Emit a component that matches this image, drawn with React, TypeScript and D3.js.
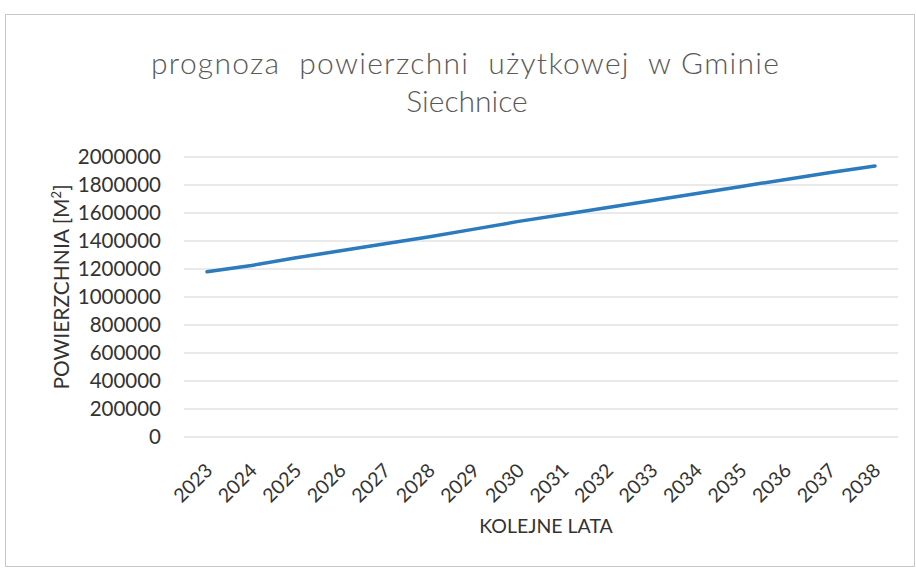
import React from 'react'
import * as d3 from 'd3'

const years = ['2023', '2024', '2025', '2026', '2027', '2028', '2029', '2030', '2031', '2032', '2033', '2034', '2035', '2036', '2037', '2038']
const area = [1180000, 1225000, 1280000, 1330000, 1380000, 1430000, 1485000, 1540000, 1590000, 1640000, 1690000, 1740000, 1790000, 1840000, 1890000, 1935000]
const yTicks = [0, 200000, 400000, 600000, 800000, 1000000, 1200000, 1400000, 1600000, 1800000, 2000000]

const W = 916
const H = 571
const font = 'Lato, "Open Sans", sans-serif'

export default function App() {
  const x = d3.scalePoint<string>().domain(years).range([207, 875])
  const y = d3.scaleLinear().domain([0, 2000000]).range([437, 157])
  const line = d3.line<number>().x((_, i) => x(years[i]) as number).y(d => y(d))

  return (
    <svg width={W} height={H} style={{ position: 'absolute', left: 0, top: 0, background: '#fff' }}>
      <rect x={5.5} y={14.5} width={909} height={552} fill="#fff" stroke="#c8c8c8" strokeWidth={1} />
      <text x={465} y={74} textAnchor="middle" fontFamily={font} fontWeight={300} fontSize={30} fill="#595959"
        style={{ whiteSpace: 'pre' }} textLength={628} lengthAdjust="spacing">
        {'prognoza  powierzchni  użytkowej  w Gminie'}
      </text>
      <text x={467} y={112} textAnchor="middle" fontFamily={font} fontWeight={300} fontSize={30} fill="#595959">
        Siechnice
      </text>
      {yTicks.map(t => (
        <g key={t}>
          <line x1={184} x2={898} y1={y(t)} y2={y(t)} stroke="#d4d4d4" strokeWidth={1} />
          <text x={161} y={y(t)} dy="0.35em" textAnchor="end" fontFamily={font} fontSize={20.5} fill="#333">
            {t}
          </text>
        </g>
      ))}
      {years.map(yr => (
        <text key={yr} transform={`translate(${(x(yr) as number) - 3},${462}) rotate(-45)`} textAnchor="end"
          dy="0.7em" fontFamily={font} fontSize={19.5} fill="#333">
          {yr}
        </text>
      ))}
      <path d={line(area) || ''} fill="none" stroke="#2b7bbd" strokeWidth={3.5} strokeLinecap="round" />
      <text transform="translate(69,287) rotate(-90)" textAnchor="middle" fontFamily={font} fontSize={21} fill="#333">
        POWIERZCHNIA [M<tspan dy="-8" fontSize={13}>2</tspan><tspan dy="8">]</tspan>
      </text>
      <text x={546} y={533} textAnchor="middle" fontFamily={font} fontSize={19.5} fill="#333">
        KOLEJNE LATA
      </text>
    </svg>
  )
}
